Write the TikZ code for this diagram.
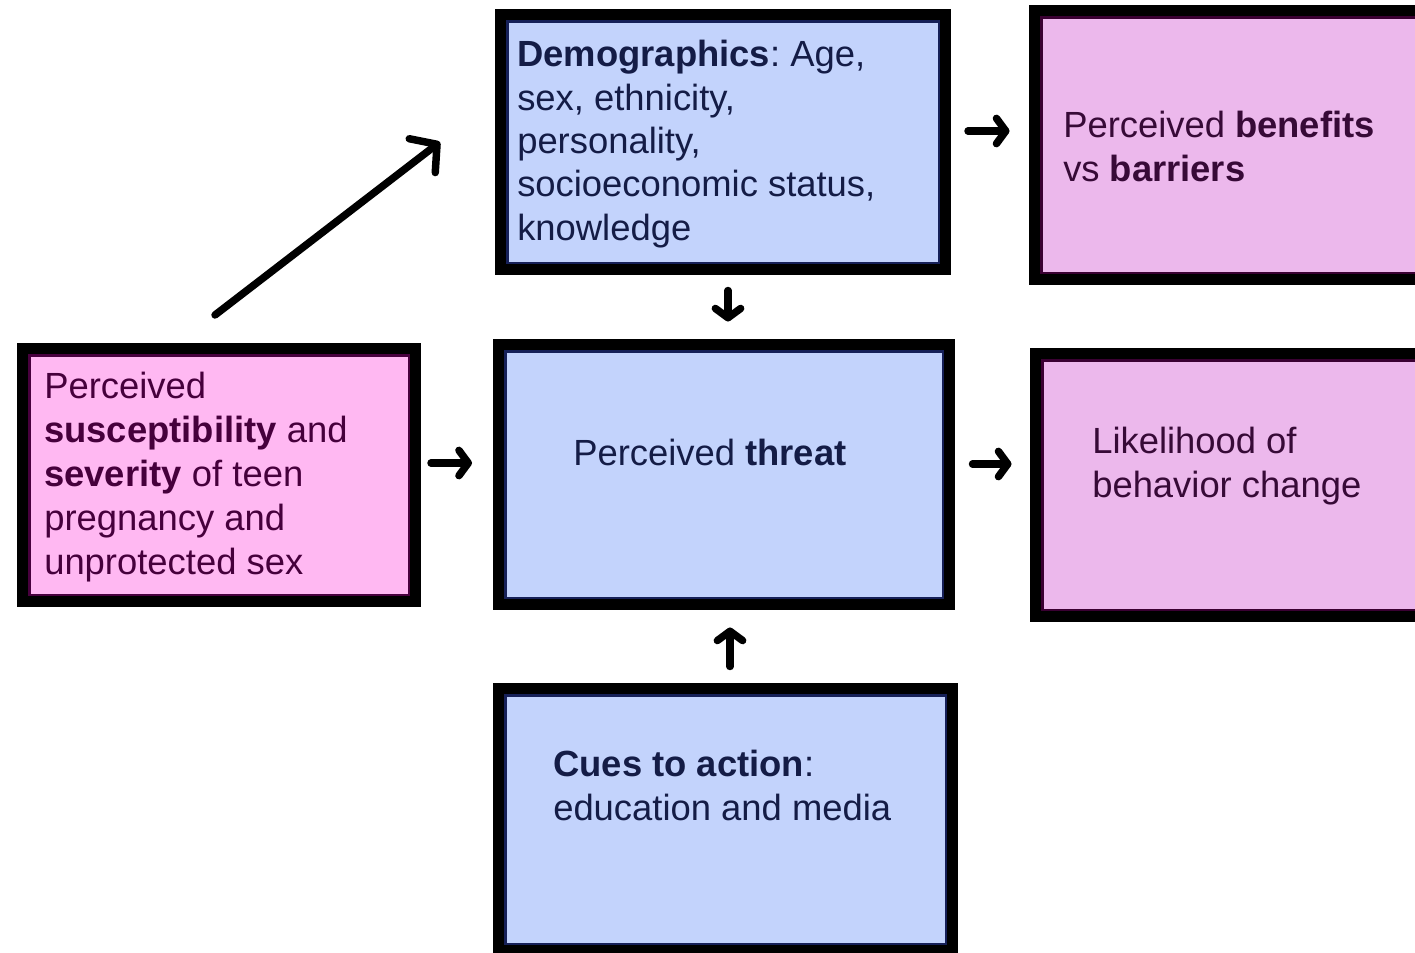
\documentclass[tikz,border=0pt]{standalone}
\usepackage{fontspec}
\setmainfont{Liberation Sans}
\frenchspacing
\usetikzlibrary{arrows.meta,calc}
\definecolor{bluefill}{RGB}{195,211,252}
\definecolor{blueline}{RGB}{22,32,88}
\definecolor{bluetext}{RGB}{20,28,70}
\definecolor{pinkfill}{RGB}{255,184,242}
\definecolor{pinkline}{RGB}{72,0,62}
\definecolor{pinktext}{RGB}{70,0,60}
\definecolor{mauvefill}{RGB}{236,184,236}
\definecolor{mauveline}{RGB}{58,0,50}
\definecolor{mauvetext}{RGB}{55,10,55}
\begin{document}
\begin{tikzpicture}[x=0.75pt,y=-0.75pt,
  box/.style={draw=black, line width=8.25pt, inner sep=0pt,
    path picture={\draw[line width=12pt,#1] (path picture bounding box.north west) rectangle (path picture bounding box.south east);}},
  bluebox/.style={box=blueline, fill=bluefill},
  pinkbox/.style={box=pinkline, fill=pinkfill},
  mauvebox/.style={box=mauveline, fill=mauvefill},
  txt/.style={anchor=base west, inner sep=0pt, align=left, font=\fontsize{27.3}{32.8}\selectfont},
  arr/.style={line width=5.6pt, line cap=round, -{Straight Barb[length=7pt,width=19pt,round]}},
  bigarr/.style={line width=5.6pt, line cap=round, -{Straight Barb[length=14pt,width=32pt,round]}}
]
\useasboundingbox (0,0) rectangle (1415,953);
\clip (0,0) rectangle (1415,953);

% boxes
\node[pinkbox, minimum width=294.75pt, minimum height=189.75pt] (L) at (219,475) {};
\node[bluebox, minimum width=333.75pt, minimum height=191.25pt] (D) at (723,142) {};
\node[mauvebox, minimum width=291pt, minimum height=201.75pt] (B) at (1228.5,145) {};
\node[bluebox, minimum width=338.25pt, minimum height=195pt] (T) at (724,474.5) {};
\node[mauvebox, minimum width=290.25pt, minimum height=197.25pt] (K) at (1229,485) {};
\node[bluebox, minimum width=340.5pt, minimum height=196.5pt] (C) at (725.5,819.5) {};

% texts (anchored at the baseline of the last line)
\node[txt, text=pinktext, font=\fontsize{27.3}{33}\selectfont] (Lt) at (44,574) {Perceived\\\textbf{susceptibility} and\\\textbf{severity} of teen\\pregnancy and\\unprotected sex};
\node[txt, text=bluetext, font=\fontsize{27.3}{32.45}\selectfont] (Dt) at (517,240) {\textbf{Demographics}: Age,\\sex, ethnicity,\\personality,\\socioeconomic status,\\knowledge};
\node[txt, text=mauvetext] (Bt) at (1063,181) {Perceived \textbf{benefits}\\vs \textbf{barriers}};
\node[txt, text=bluetext] (Tt) at (573,465) {Perceived \textbf{threat}};
\node[txt, text=mauvetext] (Kt) at (1092,497) {Likelihood of\\behavior change};
\node[txt, text=bluetext] (Ct) at (553,820) {\textbf{Cues to action}:\\education and media};

% arrows
\draw[bigarr] ($(L.north)+(-4,-28)$) -- ($(D.west)+(-55,0)$);
\draw[arr] ($(L.east)+(10,-12)$) -- ($(T.west)+(-21,-11.5)$);
\draw[arr] ($(D.east)+(17,-11)$) -- ($(B.west)+(-19.5,-14)$);
\draw[arr] ($(D.south)+(5,15.5)$) -- ($(T.north)+(4,-17.5)$);
\draw[arr] ($(T.east)+(17.5,-10.5)$) -- ($(K.west)+(-18.5,-21)$);
\draw[arr] ($(C.north)+(4.5,-16.5)$) -- ($(T.south)+(6,17.5)$);
\end{tikzpicture}
\end{document}
